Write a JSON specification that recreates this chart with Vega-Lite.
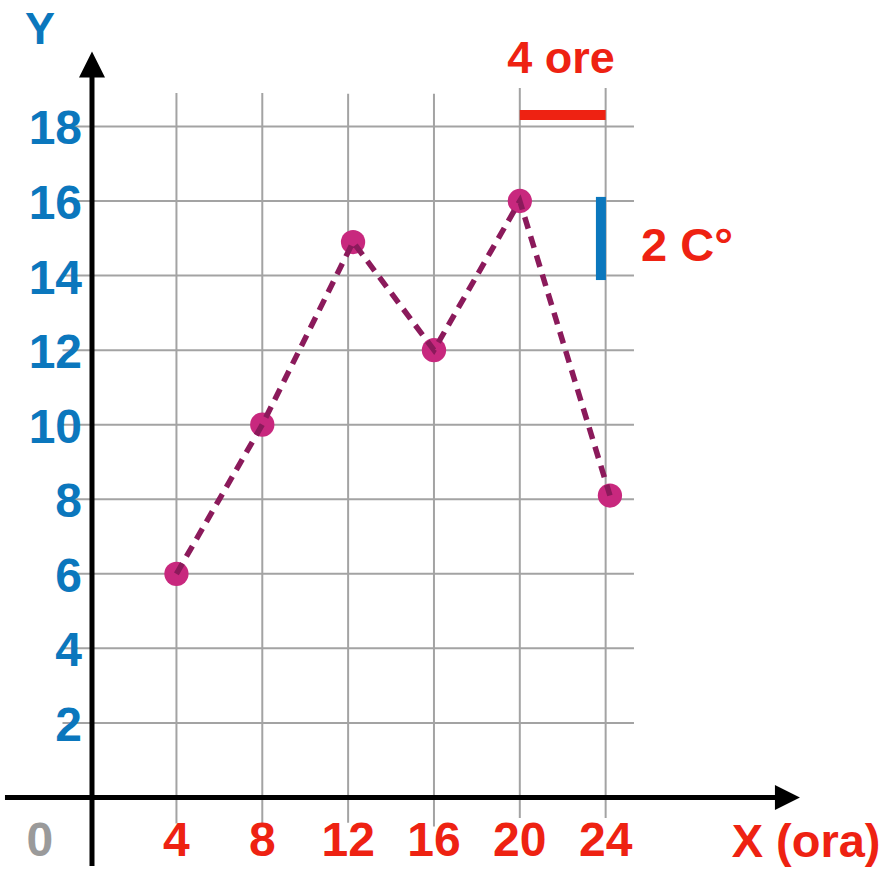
{
  "$schema": "https://vega.github.io/schema/vega-lite/v6.json",
  "width": 889,
  "height": 870,
  "padding": 0,
  "autosize": {"type": "none"},
  "background": "white",
  "config": {"view": {"stroke": null}},
  "datasets": {
    "temps": [
      {"ora": 4, "temp": 6},
      {"ora": 8, "temp": 10},
      {"ora": 12.23, "temp": 14.9},
      {"ora": 16, "temp": 12},
      {"ora": 20, "temp": 16},
      {"ora": 24.2, "temp": 8.1}
    ],
    "hgrid": [
      {"v": 2}, {"v": 4}, {"v": 6}, {"v": 8}, {"v": 10},
      {"v": 12}, {"v": 14}, {"v": 16}, {"v": 18}
    ],
    "vgrid": [
      {"v": 4, "top": 18.9, "bottom": -0.7},
      {"v": 8, "top": 18.9, "bottom": -0.7},
      {"v": 12, "top": 18.88, "bottom": -0.68},
      {"v": 16, "top": 18.88, "bottom": -0.78},
      {"v": 20, "top": 19.03, "bottom": -0.55},
      {"v": 24, "top": 19.03, "bottom": -0.55}
    ],
    "xlabels": [
      {"v": 4, "label": "4"}, {"v": 8, "label": "8"}, {"v": 12, "label": "12"},
      {"v": 16, "label": "16"}, {"v": 20, "label": "20"}, {"v": 24, "label": "24"}
    ],
    "ylabels": [
      {"v": 2, "label": "2"}, {"v": 4, "label": "4"}, {"v": 6, "label": "6"},
      {"v": 8, "label": "8"}, {"v": 10, "label": "10"}, {"v": 12, "label": "12"},
      {"v": 14, "label": "14"}, {"v": 16, "label": "16"}, {"v": 18, "label": "18"}
    ]
  },
  "encoding": {},
  "layer": [
    {
      "data": {"name": "hgrid"},
      "mark": {"type": "rule", "color": "#a3a3a3", "strokeWidth": 2},
      "encoding": {
        "x": {"datum": -1.31, "type": "quantitative", "scale": {"domain": [-4.222, 37.204], "nice": false, "zero": false}, "axis": null},
        "x2": {"datum": 25.32},
        "y": {"field": "v", "type": "quantitative", "scale": {"domain": [-1.945, 21.392], "nice": false, "zero": false}, "axis": null}
      }
    },
    {
      "data": {"name": "vgrid"},
      "mark": {"type": "rule", "color": "#a3a3a3", "strokeWidth": 2},
      "encoding": {
        "x": {"field": "v", "type": "quantitative"},
        "y": {"field": "top", "type": "quantitative"},
        "y2": {"field": "bottom"}
      }
    },
    {
      "data": {"values": [{}]},
      "mark": {"type": "rule", "color": "#000000", "strokeWidth": 5},
      "encoding": {
        "x": {"datum": -3.99, "type": "quantitative"},
        "x2": {"datum": 31.95},
        "y": {"datum": 0, "type": "quantitative"}
      }
    },
    {
      "data": {"values": [{}]},
      "mark": {"type": "rule", "color": "#000000", "strokeWidth": 5},
      "encoding": {
        "x": {"datum": 0.065, "type": "quantitative"},
        "y": {"datum": -1.84, "type": "quantitative"},
        "y2": {"datum": 19.33}
      }
    },
    {
      "data": {"values": [{}]},
      "mark": {"type": "point", "shape": "M-1,-1L1,0L-1,1Z", "filled": true, "color": "#000000", "opacity": 1, "size": 625},
      "encoding": {
        "x": {"datum": 32.47, "type": "quantitative"},
        "y": {"datum": 0, "type": "quantitative"}
      }
    },
    {
      "data": {"values": [{}]},
      "mark": {"type": "point", "shape": "M-1,1L0,-1L1,1Z", "filled": true, "color": "#000000", "opacity": 1, "size": 676},
      "encoding": {
        "x": {"datum": 0.065, "type": "quantitative"},
        "y": {"datum": 19.66, "type": "quantitative"}
      }
    },
    {
      "data": {"values": [{}]},
      "mark": {"type": "rule", "color": "#ee2212", "strokeWidth": 10, "strokeCap": "butt"},
      "encoding": {
        "x": {"datum": 20, "type": "quantitative"},
        "x2": {"datum": 24},
        "y": {"datum": 18.31, "type": "quantitative"}
      }
    },
    {
      "data": {"values": [{}]},
      "mark": {"type": "rule", "color": "#0b77bd", "strokeWidth": 10, "strokeCap": "butt"},
      "encoding": {
        "x": {"datum": 23.78, "type": "quantitative"},
        "y": {"datum": 13.88, "type": "quantitative"},
        "y2": {"datum": 16.11}
      }
    },
    {
      "data": {"name": "temps"},
      "mark": {"type": "point", "shape": "circle", "filled": true, "color": "#c8287e", "opacity": 1, "size": 590},
      "encoding": {
        "x": {"field": "ora", "type": "quantitative"},
        "y": {"field": "temp", "type": "quantitative"}
      }
    },
    {
      "data": {"name": "temps"},
      "mark": {"type": "line", "color": "#8b1a5b", "strokeWidth": 5.5, "strokeDash": [12, 8], "strokeCap": "butt"},
      "encoding": {
        "x": {"field": "ora", "type": "quantitative"},
        "y": {"field": "temp", "type": "quantitative"}
      }
    },
    {
      "data": {"name": "xlabels"},
      "mark": {"type": "text", "font": "Liberation Sans", "fontWeight": "bold", "fontSize": 48, "color": "#ee2212", "align": "center", "baseline": "alphabetic"},
      "encoding": {
        "x": {"field": "v", "type": "quantitative"},
        "y": {"datum": -1.57, "type": "quantitative"},
        "text": {"field": "label"}
      }
    },
    {
      "data": {"name": "ylabels"},
      "mark": {"type": "text", "font": "Liberation Sans", "fontWeight": "bold", "fontSize": 48, "color": "#0b77bd", "align": "right", "baseline": "alphabetic", "dy": 18},
      "encoding": {
        "x": {"datum": -0.4, "type": "quantitative"},
        "y": {"field": "v", "type": "quantitative"},
        "text": {"field": "label"}
      }
    },
    {
      "data": {"values": [{}]},
      "mark": {"type": "text", "text": "Y", "font": "Liberation Sans", "fontWeight": "bold", "fontSize": 45, "color": "#0b77bd", "align": "center", "baseline": "alphabetic"},
      "encoding": {
        "x": {"datum": -2.36, "type": "quantitative"},
        "y": {"datum": 20.22, "type": "quantitative"}
      }
    },
    {
      "data": {"values": [{}]},
      "mark": {"type": "text", "text": "0", "font": "Liberation Sans", "fontWeight": "bold", "fontSize": 48, "color": "#9a9a9a", "align": "center", "baseline": "alphabetic"},
      "encoding": {
        "x": {"datum": -2.36, "type": "quantitative"},
        "y": {"datum": -1.57, "type": "quantitative"}
      }
    },
    {
      "data": {"values": [{}]},
      "mark": {"type": "text", "text": "X (ora)", "font": "Liberation Sans", "fontWeight": "bold", "fontSize": 47, "color": "#ee2212", "align": "center", "baseline": "alphabetic"},
      "encoding": {
        "x": {"datum": 33.34, "type": "quantitative"},
        "y": {"datum": -1.6, "type": "quantitative"}
      }
    },
    {
      "data": {"values": [{}]},
      "mark": {"type": "text", "text": "4 ore", "font": "Liberation Sans", "fontWeight": "bold", "fontSize": 45, "color": "#ee2212", "align": "center", "baseline": "alphabetic"},
      "encoding": {
        "x": {"datum": 21.92, "type": "quantitative"},
        "y": {"datum": 19.43, "type": "quantitative"}
      }
    },
    {
      "data": {"values": [{}]},
      "mark": {"type": "text", "text": "2 C°", "font": "Liberation Sans", "fontWeight": "bold", "fontSize": 47, "color": "#ee2212", "align": "center", "baseline": "alphabetic"},
      "encoding": {
        "x": {"datum": 27.79, "type": "quantitative"},
        "y": {"datum": 14.39, "type": "quantitative"}
      }
    }
  ]
}
